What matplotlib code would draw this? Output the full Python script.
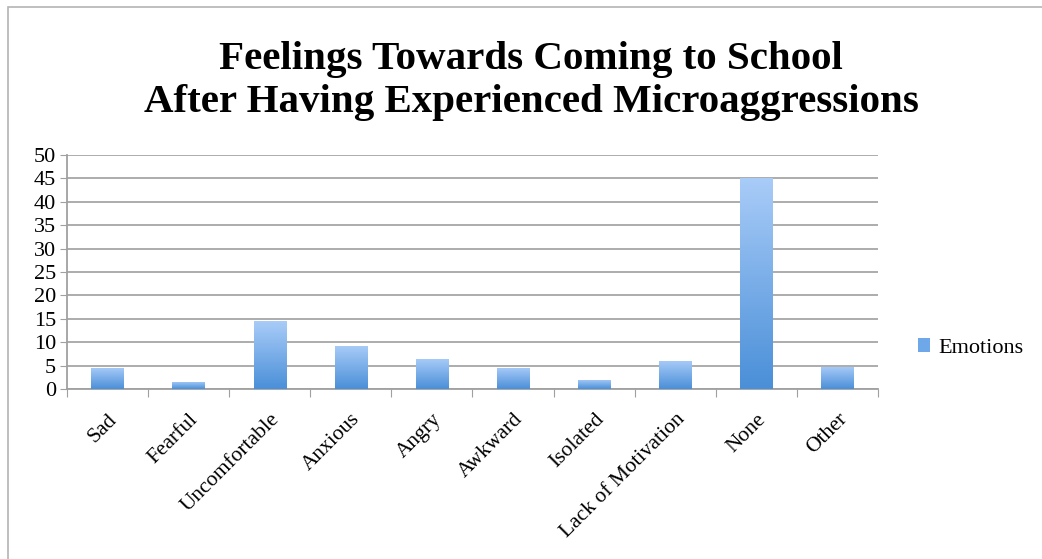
import matplotlib
matplotlib.use('Agg')
import matplotlib.pyplot as plt
import numpy as np
from matplotlib.colors import LinearSegmentedColormap
from matplotlib.patches import Rectangle

# survey answers
categories = ['Sad', 'Fearful', 'Uncomfortable', 'Anxious', 'Angry',
              'Awkward', 'Isolated', 'Lack of Motivation', 'None', 'Other']
emotions = [4.5, 1.5, 14.5, 9.2, 6.5, 4.5, 2.0, 6.1, 45.0, 4.7]
yticks = [0, 5, 10, 15, 20, 25, 30, 35, 40, 45, 50]

plt.rcParams['font.family'] = ['Liberation Serif', 'DejaVu Serif']

fig = plt.figure(figsize=(10.42, 5.59), dpi=100)
ax = fig.add_axes([0.0643, 0.304, 0.7783, 0.4187])

# outer chart frame
fig.patches.append(Rectangle((8 / 1042, -0.05), 1.1, 1 - 7 / 559 + 0.05,
                             transform=fig.transFigure, fill=False,
                             edgecolor='#b4b4b4', linewidth=1.2))

grad = LinearSegmentedColormap.from_list('blu', ['#4a8fd8', '#a9ccf8'])
x = np.arange(len(categories))
width = 0.4
bars = ax.bar(x, emotions, width, color='#6fa8e8', zorder=3, label='Emotions')
img = np.linspace(0, 1, 256).reshape(-1, 1)
for b in bars:
    bx, by = b.get_x(), b.get_y()
    bw, bh = b.get_width(), b.get_height()
    im = ax.imshow(img, cmap=grad, origin='lower', aspect='auto',
                   extent=[bx, bx + bw, by, by + bh], zorder=4)
    im.set_clip_path(b)

ax.set_xlim(-0.5, len(categories) - 0.5)
ax.set_ylim(0, 50)
ax.set_yticks(yticks)
ax.tick_params(axis='y', length=5, color='#a0a0a0', labelsize=16, pad=3)
ax.yaxis.grid(True, color='#a6a6a6', linewidth=1.3, zorder=0)
ax.set_axisbelow(True)

ax.set_xticks(np.arange(len(categories) + 1) - 0.5, minor=False)
ax.set_xticklabels([])
ax.set_xticks(x, minor=True)
ax.set_xticklabels(categories, minor=True, rotation=45, ha='right',
                   rotation_mode='anchor', fontsize=15.5)
ax.tick_params(axis='x', which='major', length=6, color='#a0a0a0', direction='out')
ax.tick_params(axis='x', which='minor', length=0, pad=15)

for s in ['top', 'right']:
    ax.spines[s].set_visible(False)
for s in ['left', 'bottom']:
    ax.spines[s].set_color('#a0a0a0')
    ax.spines[s].set_linewidth(1.3)

fig.text(0.51, 0.855, 'Feelings Towards Coming to School\nAfter Having Experienced Microaggressions',
         ha='center', va='center', fontsize=29.5, fontweight='bold', linespacing=1.24)

ax.legend(loc='center left', bbox_to_anchor=(1.025, 0.175), frameon=False,
          fontsize=16, handlelength=0.55, handleheight=0.55, handletextpad=0.35)

fig.savefig('out.png', dpi=100)
